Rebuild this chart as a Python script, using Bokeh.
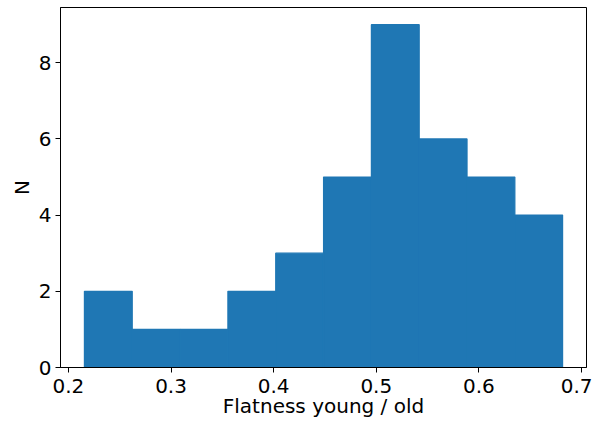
from bokeh.plotting import figure
from bokeh.models import Range1d, FixedTicker
from bokeh.embed import file_html
from bokeh.resources import INLINE

# Histogram data
bin_edges = [0.2156, 0.2622, 0.3088, 0.3554, 0.4020, 0.4486, 0.4952, 0.5418, 0.5884, 0.6350, 0.6815]
counts = [2, 1, 1, 2, 3, 5, 9, 6, 5, 4]
x_ticks = [0.2, 0.3, 0.4, 0.5, 0.6, 0.7]
y_ticks = [0, 2, 4, 6, 8]

span = bin_edges[-1] - bin_edges[0]
x0 = bin_edges[0] - 0.05 * span
x1 = bin_edges[-1] + 0.05 * span
ymax = max(counts) * 1.05

p = figure(width=592, height=420, output_backend="svg", toolbar_location=None,
           x_range=Range1d(x0, x1), y_range=Range1d(0, ymax),
           min_border_left=60, min_border_right=6, min_border_top=7, min_border_bottom=44)

p.quad(left=bin_edges[:-1], right=bin_edges[1:], bottom=[0] * len(counts), top=counts,
       fill_color="#1f77b4", line_color="#1f77b4", line_width=1.2)

p.xgrid.visible = False
p.ygrid.visible = False
p.outline_line_color = "black"
p.outline_line_width = 1
p.background_fill_color = "white"
p.border_fill_color = "white"

p.xaxis.ticker = FixedTicker(ticks=x_ticks)
p.yaxis.ticker = FixedTicker(ticks=y_ticks)
p.xaxis.axis_label = "Flatness young / old"
p.yaxis.axis_label = "N"
for ax in (p.xaxis, p.yaxis):
    ax.axis_label_text_font = "DejaVu Sans"
    ax.axis_label_text_font_size = "20px"
    ax.axis_label_text_font_style = "normal"
    ax.axis_label_text_color = "black"
    ax.major_label_text_font = "DejaVu Sans"
    ax.major_label_text_font_size = "20px"
    ax.major_label_text_color = "black"
    ax.major_tick_out = 5
    ax.major_tick_in = 0
    ax.minor_tick_out = 0
    ax.minor_tick_in = 0
    ax.axis_line_color = "black"
    ax.major_tick_line_color = "black"
p.xaxis.major_label_standoff = 6
p.xaxis.axis_label_standoff = -2
p.yaxis.major_label_standoff = 4
p.yaxis.axis_label_standoff = 2

open("out.html", "w").write(file_html(p, INLINE))
